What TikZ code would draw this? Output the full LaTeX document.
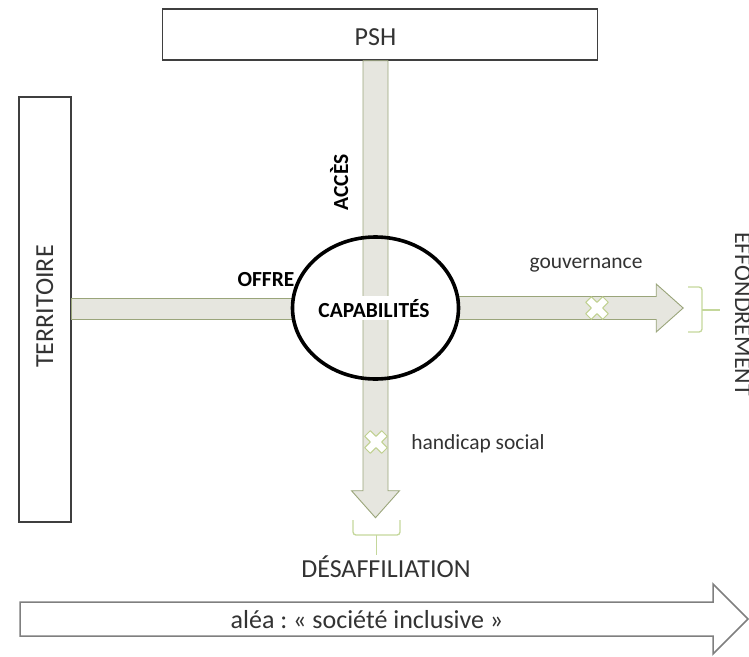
\documentclass[tikz,border=0pt]{standalone}
\usepackage{fontspec}
\setmainfont{Carlito}
\usetikzlibrary{shapes.geometric,calc}
\frenchspacing
\definecolor{barfill}{HTML}{E6E6DF}
\definecolor{barline}{HTML}{9AA57A}
\definecolor{bracecol}{HTML}{C4D79B}
\definecolor{xline}{HTML}{BFD08F}
\definecolor{boxline}{HTML}{3F3F3F}
\definecolor{txt}{HTML}{333333}
\definecolor{bigline}{HTML}{7F7F7F}
\tikzset{
  boxstyle/.style={draw=boxline, line width=1.4pt, fill=white, inner sep=0pt},
  barstyle/.style={draw=barline, line width=0.9pt, fill=barfill, line join=miter},
  brc/.style={draw=bracecol, line width=1.3pt, rounded corners=3pt},
  xmk/.style={draw=xline, line width=1pt, fill=white, line join=round},
  big/.style={font=\fontsize{26}{30}\selectfont, text=txt, inner sep=0pt},
  lab/.style={font=\fontsize{21.5}{25}\selectfont, text=txt, inner sep=0pt},
  bold/.style={font=\fontsize{21.5}{25}\selectfont\bfseries, text=black, inner sep=0pt},
  xmark/.pic={
    \begin{scope}[rotate=45]
      \draw[xmk] (4,4) -- (4,12) -- (-4,12) -- (-4,4) -- (-12,4) -- (-12,-4)
        -- (-4,-4) -- (-4,-12) -- (4,-12) -- (4,-4) -- (12,-4) -- (12,4) -- cycle;
    \end{scope}
  }
}
\begin{document}
\begin{tikzpicture}[x=1pt,y=-1pt]
\useasboundingbox (0,0) rectangle (749,656);

% main boxes
\node[boxstyle, minimum width=435pt, minimum height=51pt] (psh) at (380,34.5) {};
\node[big, anchor=base] (pshtxt) at (375.5,45) {PSH};
\node[boxstyle, minimum width=52pt, minimum height=425pt] (terr) at (45,309.5) {};
\node[big, rotate=90, anchor=base] (terrtxt) at (53,306.5) {TERRITOIRE};

% central ellipse (shape only)
\node[ellipse, minimum width=166pt, minimum height=142pt, inner sep=0pt] (cap) at (375.5,308) {};

% bars
\draw[barstyle] ($(terr.east)+(0,-11.5)$) rectangle ($(cap.west)+(0,11.5)$);
\coordinate (vtop) at (psh.south -| cap.center);
\draw[barstyle] ($(vtop)+(-12.5,0)$) -- ++(0,430) -- ++(-11.5,0) -- ++(24,27)
  -- ++(24,-27) -- ++(-11.5,0) -- ($(vtop)+(12.5,0)$) -- cycle;
\draw[barstyle] ($(cap.east)+(0,-11.5)$) -- ++(197.5,0) -- ++(0,-12.5) -- ++(27,24)
  -- ++(-27,24) -- ++(0,-12.5) -- ($(cap.east)+(0,11.5)$) -- cycle;

% ellipse outline and label
\draw[black, line width=3.6pt] (cap.center) ellipse [x radius=83pt, y radius=71pt];
\node[bold, fill=white, inner xsep=1pt, inner ysep=3pt, anchor=base] (captxt) at (374,317) {CAPABILITÉS};

% crosses
\pic at (597,308) {xmark};
\pic at (376,442) {xmark};

% braces
\draw[brc] (688,287) -- (702,287) -- (702,332) -- (688,332);
\draw[brc, rounded corners=0pt] (702,310) -- (720,310);
\draw[brc] (353,520) -- (353,535) -- (400,535) -- (400,520);
\draw[brc, rounded corners=0pt] (376.5,535) -- (376.5,555);

% labels
\node[bold, anchor=base] (offre) at (266,286) {OFFRE};
\node[bold, rotate=90, anchor=base] (acces) at (348,182.5) {ACCÈS};
\node[lab, anchor=base] (gouv) at (586,268) {gouvernance};
\node[lab, anchor=base] (hand) at (478,449) {handicap social};
\node[big, font=\fontsize{24}{28}\selectfont, rotate=-90, anchor=base west] (effon) at (735,232) {EFFONDREMENT};
\node[big, anchor=base] (desaf) at (386,577) {DÉSAFFILIATION};

% bottom arrow
\draw[draw=bigline, line width=1.5pt, fill=white, line join=miter]
  (20,602) -- (713,602) -- (713,584) -- (748,619) -- (713,654) -- (713,636) -- (20,636) -- cycle;
\node[lab, font=\fontsize{26}{30}\selectfont, anchor=base] (alea) at (367,628) {aléa : « société inclusive »};
\end{tikzpicture}
\end{document}
